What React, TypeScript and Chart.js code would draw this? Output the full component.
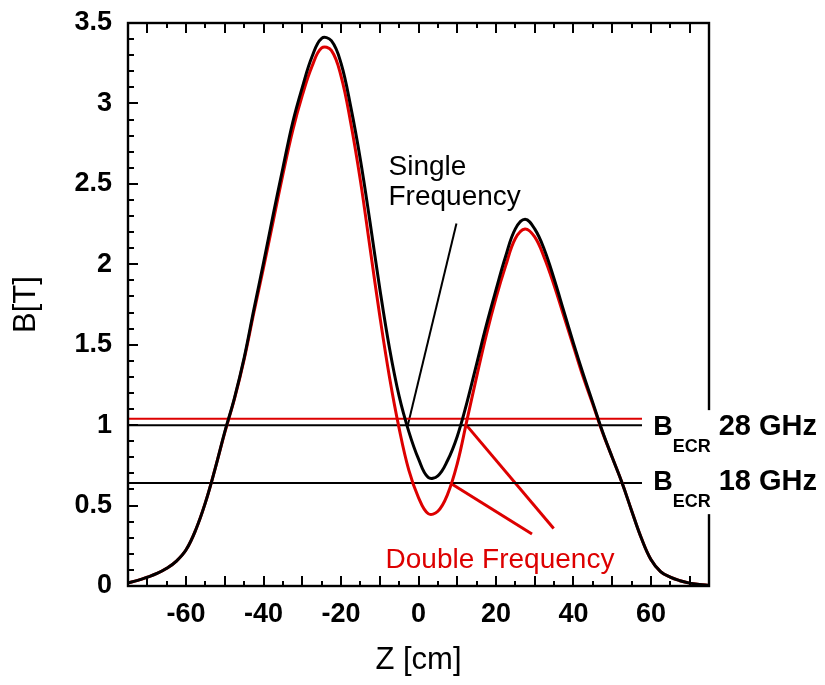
import React, { useEffect, useRef } from 'react';
import { Chart, registerables } from 'chart.js';

Chart.register(...registerables);

// Axial position along the magnet [cm]
const zPositions = [
  -75, -72.5, -70, -67.5, -65, -62.5, -60, -57.5, -55, -52.5,
  -50, -47.5, -45, -42.5, -40, -37.5, -35, -32.5, -30, -27.5,
  -25, -22.5, -20, -17.5, -15, -12.5, -10, -7.5, -5, -2.5,
  0, 2.5, 5, 7.5, 10, 12.5, 15, 17.5, 20, 22.5,
  25, 27.5, 30, 32.5, 35, 37.5, 40, 42.5, 45, 47.5,
  50, 52.5, 55, 57.5, 60, 62.5, 65, 67.5, 70, 72.5, 75,
];

// Single frequency field profile B [T]
const singleFreqB = [
  0.02, 0.035, 0.055, 0.078, 0.11, 0.155, 0.225, 0.35, 0.52, 0.73,
  0.96, 1.17, 1.42, 1.72, 2.01, 2.31, 2.60, 2.88, 3.10, 3.29,
  3.405, 3.39, 3.25, 2.98, 2.65, 2.26, 1.85, 1.48, 1.18, 0.96,
  0.79, 0.675, 0.685, 0.78, 0.93, 1.14, 1.38, 1.62, 1.84, 2.05,
  2.22, 2.28, 2.22, 2.09, 1.91, 1.71, 1.51, 1.32, 1.14, 0.96,
  0.80, 0.645, 0.47, 0.30, 0.165, 0.09, 0.055, 0.033, 0.018, 0.01, 0.005,
];

// Double frequency field profile B [T]
const doubleFreqB = [
  0.02, 0.035, 0.055, 0.078, 0.11, 0.155, 0.225, 0.35, 0.52, 0.73,
  0.955, 1.165, 1.41, 1.70, 1.98, 2.27, 2.56, 2.83, 3.05, 3.23,
  3.345, 3.33, 3.17, 2.88, 2.52, 2.10, 1.68, 1.30, 0.98, 0.72,
  0.55, 0.45, 0.465, 0.57, 0.76, 1.03, 1.30, 1.56, 1.79, 1.99,
  2.16, 2.22, 2.17, 2.04, 1.87, 1.68, 1.49, 1.30, 1.13, 0.955,
  0.80, 0.645, 0.47, 0.30, 0.165, 0.09, 0.055, 0.033, 0.018, 0.01, 0.005,
];

// Resonance field levels
const ecr28Single = 1.0;
const ecr28Double = 1.04;
const ecr18 = 0.64;
const ecrLineX = [-75, 57.7];

// Pointer lines [start, end] in (z, B)
const singlePointerZ = [9.8, -2.76];
const singlePointerB = [2.253, 1.0];
const doublePointer1Z = [12.57, 34.9];
const doublePointer1B = [0.994, 0.358];
const doublePointer2Z = [8.7, 29.3];
const doublePointer2B = [0.632, 0.323];

const xTickValues = [-60, -40, -20, 0, 20, 40, 60];
const yTickValues = [0, 0.5, 1, 1.5, 2, 2.5, 3, 3.5];

const RED = '#dd0000';
const FONT = '"Liberation Sans", Arial, Helvetica, sans-serif';

const pts = (xs: number[], ys: number[]) => xs.map((x, i) => ({ x, y: ys[i] }));

const decorPlugin = {
  id: 'decor',
  afterDatasetsDraw(chart: any) {
    const { ctx, chartArea, scales } = chart;
    const xs = scales.x;
    const ys = scales.y;
    const { left, right, top, bottom } = chartArea;
    ctx.save();
    ctx.strokeStyle = '#000';
    ctx.lineWidth = 2;
    // inward ticks
    ctx.beginPath();
    for (let v = -70; v <= 70; v += 5) {
      const px = Math.round(xs.getPixelForValue(v));
      const len = v % 10 === 0 ? 10 : 5;
      ctx.moveTo(px, bottom);
      ctx.lineTo(px, bottom - len);
      ctx.moveTo(px, top);
      ctx.lineTo(px, top + len);
    }
    for (let i = 1; i < 35; i++) {
      const v = i / 10;
      const py = Math.round(ys.getPixelForValue(v));
      const len = i % 5 === 0 ? 10 : 6;
      ctx.moveTo(left, py);
      ctx.lineTo(left + len, py);
    }
    ctx.stroke();
    // frame
    ctx.lineWidth = 2.4;
    ctx.strokeRect(left, top, right - left, bottom - top);

    // label background (covers right axis)
    ctx.fillStyle = '#fff';
    ctx.fillRect(right - 64, ys.getPixelForValue(ecr28Single) - 15, 120, 104);

    // B_ECR labels
    const drawEcr = (baseVal: number, txt: string) => {
      const x0 = xs.getPixelForValue(60.6);
      const by = ys.getPixelForValue(baseVal);
      ctx.fillStyle = '#000';
      ctx.textBaseline = 'alphabetic';
      ctx.textAlign = 'left';
      ctx.font = `bold 27px ${FONT}`;
      ctx.fillText('B', x0, by);
      const bw = ctx.measureText('B').width;
      ctx.font = `bold 18px ${FONT}`;
      ctx.fillText('ECR', x0 + bw, by + 17);
      const ew = ctx.measureText('ECR').width;
      ctx.font = `bold 29px ${FONT}`;
      ctx.fillText(txt, x0 + bw + ew + 8, by);
    };
    drawEcr(0.938, '28 GHz');
    drawEcr(0.596, '18 GHz');

    // annotations
    ctx.textAlign = 'left';
    ctx.textBaseline = 'alphabetic';
    ctx.font = `28px ${FONT}`;
    ctx.fillStyle = '#000';
    ctx.fillText('Single', xs.getPixelForValue(-7.74), ys.getPixelForValue(2.553));
    ctx.fillText('Frequency', xs.getPixelForValue(-7.74), ys.getPixelForValue(2.366));
    ctx.fillStyle = RED;
    ctx.fillText('Double Frequency', xs.getPixelForValue(-8.5), ys.getPixelForValue(0.112));
    ctx.restore();
  },
};

export default function App() {
  const ref = useRef<HTMLCanvasElement | null>(null);
  useEffect(() => {
    if (!ref.current) return;
    const line = (data: any[], color: string, width: number, extra: any = {}) => ({
      data,
      borderColor: color,
      backgroundColor: color,
      borderWidth: width,
      pointRadius: 0,
      fill: false,
      tension: 0,
      ...extra,
    });
    const chart = new Chart(ref.current, {
      type: 'line',
      data: {
        datasets: [
          line(pts(zPositions, singleFreqB), '#000', 3, { tension: 0.4 }),
          line(pts(zPositions, doubleFreqB), RED, 3, { tension: 0.4 }),
          line(pts(ecrLineX, [ecr28Single, ecr28Single]), '#000', 2),
          line(pts(ecrLineX, [ecr28Double, ecr28Double]), RED, 2),
          line(pts(ecrLineX, [ecr18, ecr18]), '#000', 2),
          line(pts(singlePointerZ, singlePointerB), '#000', 2),
          line(pts(doublePointer1Z, doublePointer1B), RED, 3),
          line(pts(doublePointer2Z, doublePointer2B), RED, 3),
        ],
      },
      options: {
        responsive: false,
        animation: false,
        events: [],
        layout: { padding: { left: 0, right: 116, top: 23, bottom: 0 } },
        plugins: { legend: { display: false }, tooltip: { enabled: false } },
        scales: {
          x: {
            type: 'linear',
            min: -75,
            max: 75,
            afterBuildTicks: (s: any) => {
              s.ticks = xTickValues.map((v) => ({ value: v }));
            },
            afterFit: (s: any) => {
              s.height = 99;
              s.paddingLeft = 0;
              s.paddingRight = 0;
            },
            grid: { display: false, drawTicks: false },
            border: { display: false },
            ticks: {
              color: '#000',
              font: { family: FONT, size: 27, weight: 'bold' },
              padding: 12,
              maxRotation: 0,
              autoSkip: false,
              callback: (v: any) => String(v),
            },
            title: {
              display: true,
              text: 'Z [cm]',
              color: '#000',
              font: { family: FONT, size: 31 },
              padding: { top: 0, bottom: 6 },
            },
          },
          y: {
            type: 'linear',
            min: 0,
            max: 3.5,
            afterBuildTicks: (s: any) => {
              s.ticks = yTickValues.map((v) => ({ value: v }));
            },
            afterFit: (s: any) => {
              s.width = 128;
              s.paddingTop = 0;
              s.paddingBottom = 0;
            },
            grid: { display: false, drawTicks: false },
            border: { display: false },
            ticks: {
              color: '#000',
              font: { family: FONT, size: 27, weight: 'bold' },
              padding: 16,
              autoSkip: false,
              callback: (v: any) => String(v),
            },
            title: {
              display: true,
              text: 'B[T]',
              color: '#000',
              font: { family: FONT, size: 31 },
              padding: { top: 8, bottom: 0 },
            },
          },
        },
      },
      plugins: [decorPlugin],
    });
    return () => chart.destroy();
  }, []);
  return (
    <div style={{ position: 'fixed', left: 0, top: 0, width: 825, height: 685, background: '#fff' }}>
      <canvas ref={ref} width={825} height={685} style={{ width: 825, height: 685, display: 'block' }} />
    </div>
  );
}
